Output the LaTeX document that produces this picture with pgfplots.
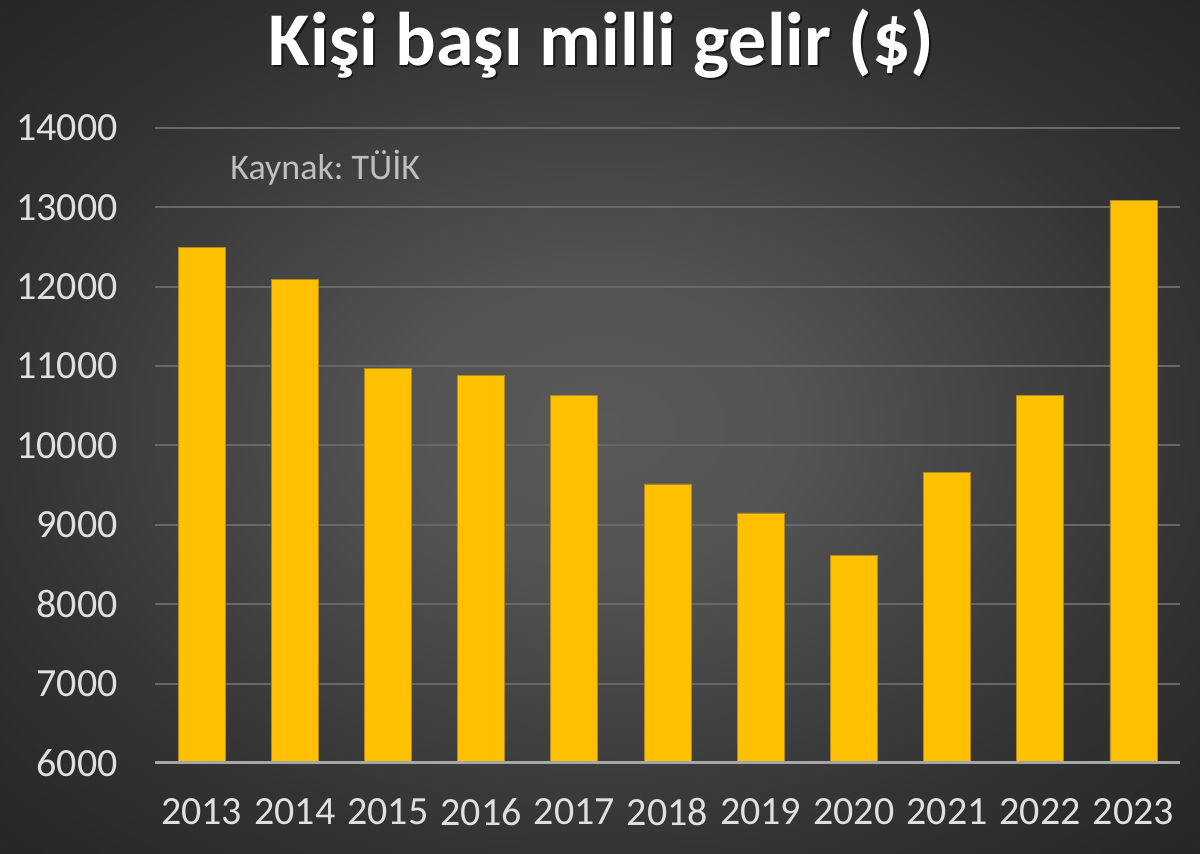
\documentclass[border=0pt]{standalone}
\usepackage{fontspec}
\setmainfont{Carlito}
\usepackage{pgfplots}
\pgfplotsset{compat=1.18}
\definecolor{barc}{HTML}{FFC000}
\definecolor{bard}{HTML}{B08A20}
\definecolor{gridc}{HTML}{686868}
\definecolor{axisc}{HTML}{A6A6A6}
\definecolor{tickc}{HTML}{E0E0E0}
\definecolor{srcc}{HTML}{BFBFBF}
\pgfdeclareradialshading{bgshade}{\pgfpoint{0bp}{0bp}}{%
  rgb(0bp)=(0.345,0.345,0.345);
  rgb(8bp)=(0.33,0.33,0.33);
  rgb(25bp)=(0.2,0.2,0.2);
  rgb(36bp)=(0.145,0.145,0.145);
  rgb(50bp)=(0.145,0.145,0.145)}
\pgfplotstableread{
x y
0 12490
1 12090
2 10975
3 10885
4 10635
5 9515
6 9150
7 8620
8 9665
9 10625
10 13090
}\gelir
\frenchspacing
\begin{document}
\begin{tikzpicture}
\shade[shading=bgshade] (0,0) rectangle (600bp,427bp);
\useasboundingbox (0,0) rectangle (600bp,427bp);
\begin{axis}[
  at={(77.5bp,45.5bp)}, anchor=south west,
  scale only axis, width=512.5bp, height=317.5bp,
  xmin=-0.5, xmax=10.5, ymin=6000, ymax=14000,
  ytick={6000,7000,...,14000},
  scaled y ticks=false,
  xtick=data,
  xticklabels={2013,2014,2015,2016,2017,2018,2019,2020,2021,2022,2023},
  axis line style={draw=none},
  major tick length=0pt,
  ymajorgrids,
  grid style={color=gridc, line width=1bp},
  /pgf/number format/assume math mode=true,
  /pgf/number format/1000 sep={},
  /pgf/number format/fixed,
  yticklabel style={font=\fontsize{20bp}{24bp}\selectfont, color=tickc, inner sep=0pt, xshift=-18.5bp},
  xticklabel style={font=\fontsize{20bp}{24bp}\selectfont, color=tickc, inner sep=0pt, yshift=-17.5bp},
  clip=false,
]
\addplot[ybar, bar width=23.5bp, bar shift=0pt, fill=barc, draw=bard, line width=0.4bp] table[x=x,y=y] {\gelir};
\draw[axisc, line width=1.5bp] (axis cs:-0.5,6000) -- (axis cs:10.5,6000);
\end{axis}
\node[anchor=base, text=black, opacity=0.55, inner sep=0pt, font=\fontsize{38bp}{44bp}\selectfont\bfseries] at (301.6bp,393.2bp) {Kişi başı milli gelir (\$)};
\node[anchor=base, text=white, inner sep=0pt, font=\fontsize{38bp}{44bp}\selectfont\bfseries] at (300.8bp,394bp) {Kişi başı milli gelir (\$)};
\node[anchor=base west, text=srcc, inner sep=0pt, font=\fontsize{18bp}{22bp}\selectfont] at (115bp,337bp) {Kaynak: TÜİK};
\end{tikzpicture}
\end{document}
